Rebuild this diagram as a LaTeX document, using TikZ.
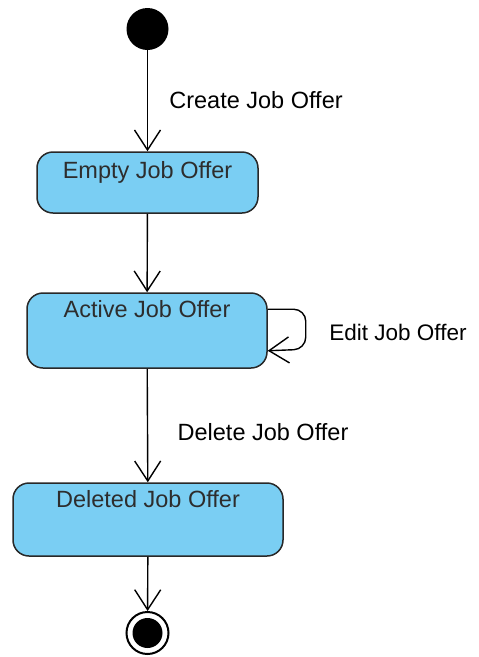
\documentclass[tikz,border=0pt]{standalone}
\usepackage{fontspec}
\setmainfont{Liberation Sans}
\usetikzlibrary{arrows.meta}
\definecolor{statefill}{RGB}{122,206,243}
\definecolor{stateline}{RGB}{40,40,40}
\definecolor{statetext}{RGB}{45,45,45}
\tikzset{
  statebox/.style={draw=stateline, fill=statefill, line width=1.5pt, rounded corners=16pt,
    inner sep=0pt, text=statetext, font=\fontsize{23.5}{28}\selectfont},
  trans/.style={line width=1.4pt, -{Straight Barb[length=20pt,width=26pt,line width=1.4pt]}},
  translabel/.style={font=\fontsize{23.5}{28}\selectfont}
}
\begin{document}
\begin{tikzpicture}[x=1pt,y=-1pt]
\useasboundingbox (0,0) rectangle (479,657);
% states
\node[circle, fill=black, minimum size=42pt, inner sep=0pt] (init) at (147.5,29) {};
\node[statebox, minimum width=221pt, text height=26.5pt, text depth=34.5pt] (empty) at (147.5,182.5) {Empty Job Offer};
\node[statebox, minimum width=240pt, text height=24.5pt, text depth=50.5pt] (active) at (147,330.5) {Active Job Offer};
\node[statebox, minimum width=270pt, text height=24.5pt, text depth=48.5pt] (deleted) at (148,519.5) {Deleted Job Offer};
\node[circle, draw, line width=2pt, minimum size=42pt, inner sep=0pt] (final) at (147.5,633) {};
\fill (final.center) circle[radius=15pt];
% transitions
\draw[trans] (init) -- (empty);
\draw[trans] (empty) -- (active);
\draw[trans] (active) -- (deleted);
\draw[trans] (deleted) -- (final);
\draw[trans, rounded corners=12pt] ([yshift=-17pt]active.north east) -- ++(38,0) -- ++(0,40) -- ([yshift=18pt]active.south east);
% labels
\node[translabel] (createlbl) at (256,100) {Create Job Offer};
\node[translabel, font=\fontsize{22.5}{27}\selectfont] (editlbl) at (398,332) {Edit Job Offer};
\node[translabel] (deletelbl) at (263,432) {Delete Job Offer};
\end{tikzpicture}
\end{document}
